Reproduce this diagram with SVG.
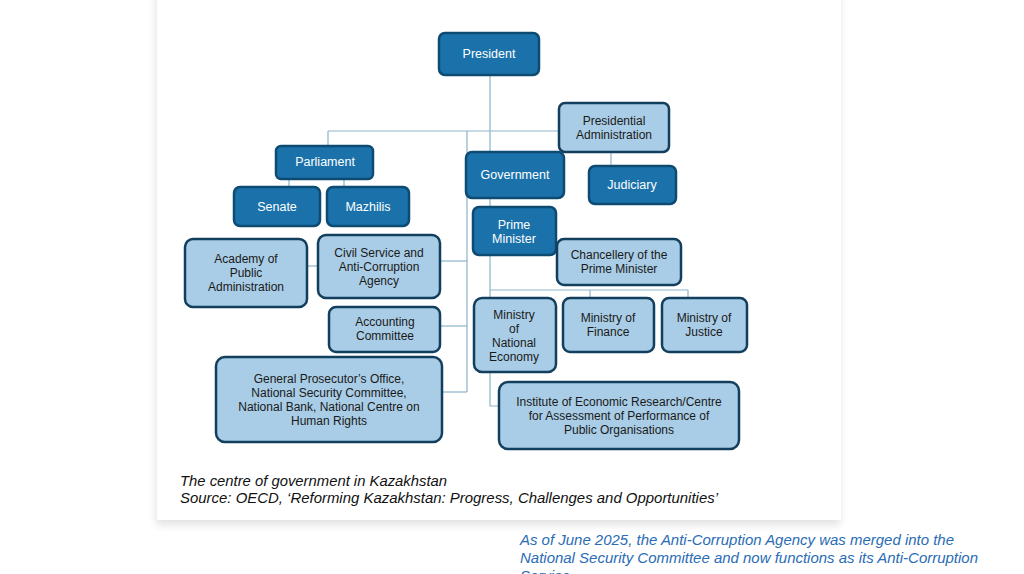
<svg xmlns="http://www.w3.org/2000/svg" width="1024" height="574" viewBox="0 0 1024 574">
  <defs>
    <filter id="cardShadow" x="-5%" y="-5%" width="110%" height="115%">
      <feGaussianBlur in="SourceAlpha" stdDeviation="4"/>
      <feOffset dx="-1" dy="5" result="b"/>
      <feComponentTransfer><feFuncA type="linear" slope="0.12"/></feComponentTransfer>
      <feMerge><feMergeNode/><feMergeNode in="SourceGraphic"/></feMerge>
    </filter>
    <style>
      .dark rect { fill: #1b72ab; stroke: #0e4b72; stroke-width: 2.5; }
      .light rect { fill: #a9cde6; stroke: #123f5e; stroke-width: 2.5; }
      .dark text { fill: #ffffff; font-family: "Liberation Sans", Arial, sans-serif; font-size: 12.5px; text-anchor: middle; }
      .light text { fill: #1a1a1a; font-family: "Liberation Sans", Arial, sans-serif; font-size: 12px; text-anchor: middle; }
      #connectors path { fill: none; stroke: #8db3c9; stroke-width: 1.2; }
      .caption { font-family: "Liberation Sans", Arial, sans-serif; font-style: italic; font-size: 15px; fill: #111111; }
      .note { font-family: "Liberation Sans", Arial, sans-serif; font-style: italic; font-size: 14.5px; fill: #2a6cb5; }
    </style>
  </defs>

  <rect x="0" y="0" width="1024" height="574" fill="#ffffff"/>
  <rect x="157" y="-20" width="684" height="540" fill="#ffffff" filter="url(#cardShadow)"/>

  <g id="connectors">
    <path d="M490 75 V207"/>
    <path d="M328 131 H559"/>
    <path d="M328 131 V146"/>
    <path d="M289 179 V187"/>
    <path d="M344 179 V187"/>
    <path d="M611 152 V166"/>
    <path d="M467 131 V392"/>
    <path d="M440 261 H467"/>
    <path d="M440 326 H467"/>
    <path d="M442 392 H467"/>
    <path d="M306 266 H318"/>
    <path d="M490 255 V406 H500"/>
    <path d="M490 290 H688"/>
    <path d="M590 290 V298"/>
    <path d="M688 290 V298"/>
  </g>

  <g id="president" class="dark">
    <rect x="439" y="33" width="100" height="42" rx="6"/>
    <text x="489" y="58">President</text>
  </g>
  <g id="presidential-administration" class="light">
    <rect x="559" y="103" width="110" height="49" rx="6"/>
    <text x="614" y="125">Presidential</text>
    <text x="614" y="139">Administration</text>
  </g>
  <g id="parliament" class="dark">
    <rect x="276" y="146" width="97" height="33" rx="5"/>
    <text x="325" y="166">Parliament</text>
  </g>
  <g id="government" class="dark">
    <rect x="466" y="152" width="98" height="46" rx="6"/>
    <text x="515" y="179">Government</text>
  </g>
  <g id="judiciary" class="dark">
    <rect x="589" y="166" width="87" height="38" rx="6"/>
    <text x="632" y="189">Judiciary</text>
  </g>
  <g id="senate" class="dark">
    <rect x="234" y="187" width="86" height="39" rx="6"/>
    <text x="277" y="211">Senate</text>
  </g>
  <g id="mazhilis" class="dark">
    <rect x="327" y="187" width="82" height="39" rx="6"/>
    <text x="368" y="211">Mazhilis</text>
  </g>
  <g id="prime-minister" class="dark">
    <rect x="473" y="207" width="83" height="48" rx="6"/>
    <text x="514" y="229">Prime</text>
    <text x="514" y="243">Minister</text>
  </g>
  <g id="academy" class="light">
    <rect x="185" y="239" width="122" height="68" rx="8"/>
    <text x="246" y="263">Academy of</text>
    <text x="246" y="277">Public</text>
    <text x="246" y="291">Administration</text>
  </g>
  <g id="civil-service" class="light">
    <rect x="318" y="235" width="122" height="63" rx="8"/>
    <text x="379" y="257">Civil Service and</text>
    <text x="379" y="271">Anti-Corruption</text>
    <text x="379" y="285">Agency</text>
  </g>
  <g id="chancellery" class="light">
    <rect x="557" y="239" width="124" height="46" rx="7"/>
    <text x="619" y="259">Chancellery of the</text>
    <text x="619" y="273">Prime Minister</text>
  </g>
  <g id="accounting-committee" class="light">
    <rect x="329" y="307" width="111" height="45" rx="7"/>
    <text x="385" y="326">Accounting</text>
    <text x="385" y="340">Committee</text>
  </g>
  <g id="ministry-national-economy" class="light">
    <rect x="474" y="298" width="82" height="74" rx="8"/>
    <text x="514" y="319">Ministry</text>
    <text x="514" y="333">of</text>
    <text x="514" y="347">National</text>
    <text x="514" y="361">Economy</text>
  </g>
  <g id="ministry-finance" class="light">
    <rect x="563" y="298" width="91" height="54" rx="7"/>
    <text x="608" y="322">Ministry of</text>
    <text x="608" y="336">Finance</text>
  </g>
  <g id="ministry-justice" class="light">
    <rect x="662" y="298" width="85" height="54" rx="7"/>
    <text x="704" y="322">Ministry of</text>
    <text x="704" y="336">Justice</text>
  </g>
  <g id="general-prosecutor" class="light">
    <rect x="216" y="357" width="226" height="85" rx="9"/>
    <text x="329" y="383">General Prosecutor’s Office,</text>
    <text x="329" y="397">National Security Committee,</text>
    <text x="329" y="411">National Bank, National Centre on</text>
    <text x="329" y="425">Human Rights</text>
  </g>
  <g id="institute" class="light">
    <rect x="499" y="382" width="240" height="67" rx="9"/>
    <text x="619" y="406">Institute of Economic Research/Centre</text>
    <text x="619" y="420">for Assessment of Performance of</text>
    <text x="619" y="434">Public Organisations</text>
  </g>

  <g id="caption">
    <text class="caption" x="180" y="486" textLength="267" lengthAdjust="spacingAndGlyphs">The centre of government in Kazakhstan</text>
    <text class="caption" x="180" y="503" textLength="538" lengthAdjust="spacingAndGlyphs">Source: OECD, ‘Reforming Kazakhstan: Progress, Challenges and Opportunities’</text>
  </g>
  <g id="note">
    <text class="note" x="520" y="545" textLength="434" lengthAdjust="spacingAndGlyphs">As of June 2025, the Anti-Corruption Agency was merged into the</text>
    <text class="note" x="520" y="563" textLength="458" lengthAdjust="spacingAndGlyphs">National Security Committee and now functions as its Anti-Corruption</text>
    <text class="note" x="520" y="581" textLength="50" lengthAdjust="spacingAndGlyphs">Service</text>
  </g>
</svg>
